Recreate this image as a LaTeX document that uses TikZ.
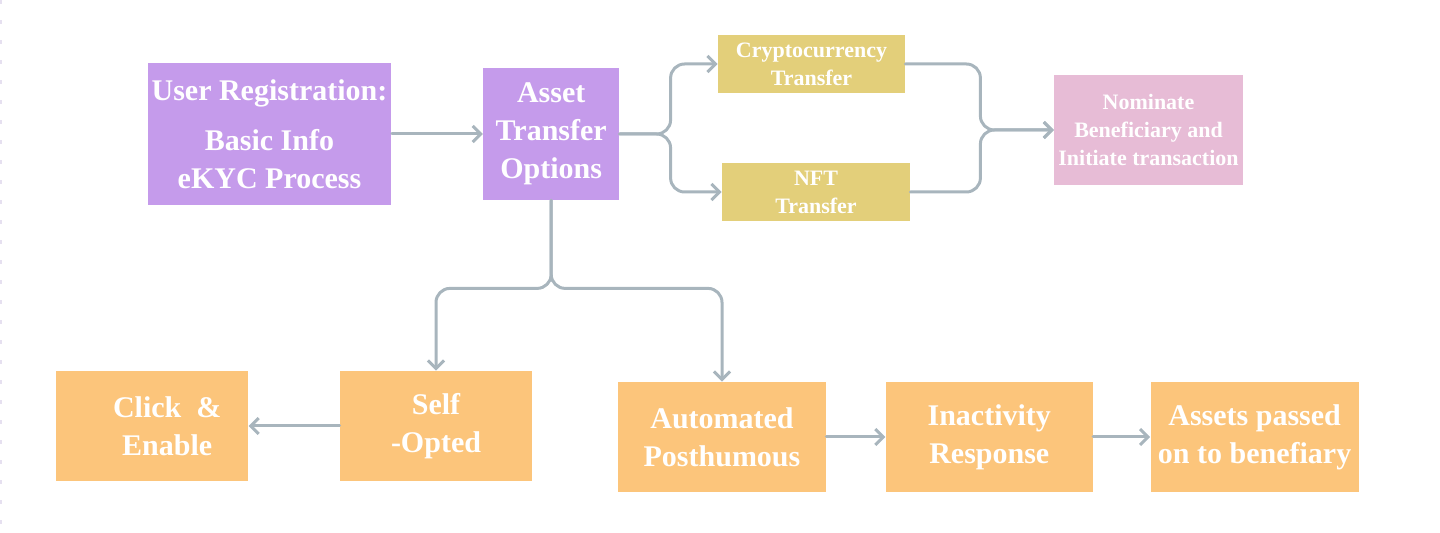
\documentclass[tikz,border=0pt]{standalone}
\usepackage{fontspec}
\setmainfont{Liberation Serif}
\usetikzlibrary{arrows.meta,positioning}

\definecolor{regpurple}{HTML}{C59BEB}
\definecolor{optyellow}{HTML}{E3CF7A}
\definecolor{nompink}{HTML}{E7BCD6}
\definecolor{steporange}{HTML}{FCC57B}
\definecolor{linegray}{HTML}{A8B5BD}
\definecolor{dotlilac}{HTML}{E6E0F0}

\begin{document}
\begin{tikzpicture}[
  x=0.5pt,y=-0.5pt,
  font=\bfseries,
  box/.style={fill=#1,text=white,align=center,inner sep=2pt},
  big/.style={font=\fontsize{15}{19}\selectfont\bfseries},
  small/.style={font=\fontsize{11}{14}\selectfont\bfseries},
  arr/.style={-{Straight Barb[length=4pt,width=8pt]},line width=1.5pt,draw=linegray,line cap=round,line join=round}
]
\useasboundingbox (0,0) rectangle (1440,533);
\draw[dotlilac,line width=1pt,dash pattern=on 2pt off 8pt] (1,0) -- (1,533);

\node[box=regpurple,big,minimum width=120.5pt,minimum height=71pt] (ureg) at (269.5,134)
  {User Registration:\\[6pt]Basic Info\\eKYC Process};
\node[box=regpurple,big,minimum width=68pt,minimum height=66pt,right=45.5pt of ureg] (ato)
  {Asset\\Transfer\\Options};
\node[box=optyellow,small,minimum width=93.5pt,minimum height=29pt] (crypto) at (811.5,64)
  {Cryptocurrency\\Transfer};
\node[box=optyellow,small,minimum width=94pt,minimum height=29pt] (nft) at (816,192)
  {NFT\\Transfer};
\node[box=nompink,small,minimum width=93.5pt,minimum height=55pt] (nominate) at (1148.5,130)
  {Nominate\\Beneficiary and\\Initiate transaction};

\node[box=steporange,big,minimum width=96pt,minimum height=55pt] (selfopt) at (436,426)
  {Self\\-Opted};
\node[box=steporange,big,minimum width=96pt,minimum height=55pt,left=45.5pt of selfopt] (click)
  {\hspace*{15pt}Click~~\&\\\hspace*{15pt}Enable};
\node[box=steporange,big,minimum width=104pt,minimum height=55pt] (auto) at (722,437)
  {Automated\\Posthumous};
\node[box=steporange,big,minimum width=103.5pt,minimum height=55pt,right=29.5pt of auto] (inact)
  {Inactivity\\Response};
\node[box=steporange,big,minimum width=104pt,minimum height=55pt,right=28.5pt of inact] (passed)
  {Assets passed\\on to benefiary};

\draw[arr] (ureg) -- (ato);
\draw[arr,rounded corners=7pt] (ato.east) -- ++(51,0) |- (crypto.west);
\draw[arr,rounded corners=7pt] (ato.east) -- ++(51,0) |- (nft.west);
\draw[arr,rounded corners=7pt] (crypto.east) -| ++(75,66) -- (nominate.west);
\draw[arr,rounded corners=7pt] (nft.east) -| ++(70,-62) -- (nominate.west);
\draw[arr,rounded corners=7pt] (ato.south) |- ++(0,88) -| (selfopt.north);
\draw[arr,rounded corners=7pt] (ato.south) |- ++(0,88) -| (auto.north);
\draw[arr] (selfopt) -- (click);
\draw[arr] (auto) -- (inact);
\draw[arr] (inact) -- (passed);
\end{tikzpicture}
\end{document}
